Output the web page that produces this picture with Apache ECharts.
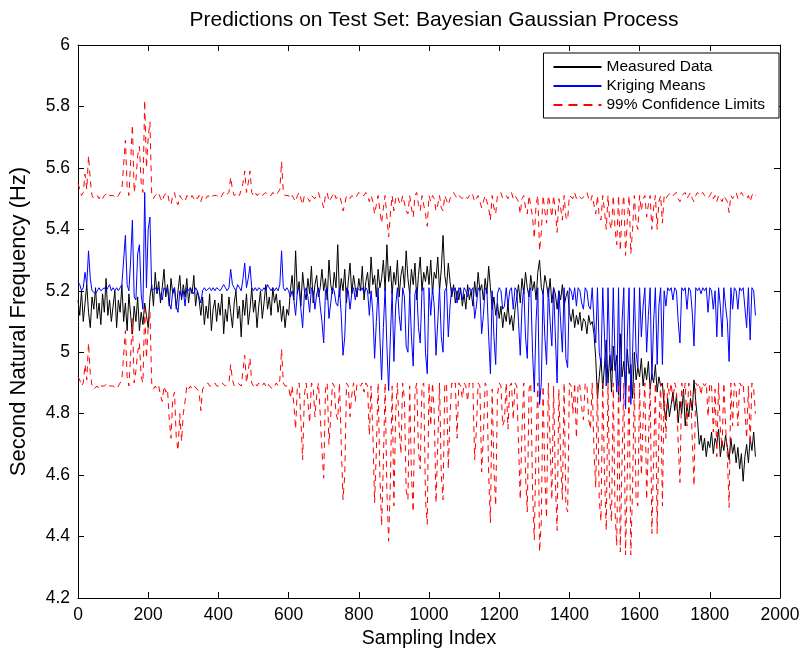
<!DOCTYPE html>
<html>
<head>
<meta charset="utf-8">
<script src="https://cdn.jsdelivr.net/npm/echarts@6/dist/echarts.min.js"></script>
<style>
  html, body { margin: 0; padding: 0; background: #fff; }
  #chart { width: 803px; height: 657px; }
</style>
</head>
<body>
<div id="chart"></div>
<script>
// Sampling index step between stored values
const STEP = 5;

// Measured second natural frequency (Hz)
const measured = [
  5.17,5.12,5.20,5.10,5.16,5.22,5.13,5.08,5.18,5.14,5.21,5.11,5.16,5.09,5.19,5.13,5.24,5.12,5.17,5.10,
  5.15,5.20,5.08,5.17,5.13,5.22,5.10,5.16,5.07,5.19,5.12,5.06,5.15,5.10,5.18,5.07,5.13,5.09,5.16,5.12,
  5.08,5.18,5.22,5.15,5.26,5.19,5.23,5.16,5.21,5.27,5.18,5.22,5.15,5.24,5.19,5.21,5.14,5.20,5.25,5.17,
  5.22,5.18,5.24,5.16,5.21,5.19,5.25,5.15,5.20,5.17,5.12,5.18,5.09,5.15,5.11,5.19,5.07,5.14,5.17,5.10,
  5.16,5.12,5.19,5.06,5.14,5.10,5.18,5.13,5.08,5.16,5.20,5.11,5.15,5.05,5.17,5.12,5.19,5.09,5.14,5.21,
  5.13,5.17,5.08,5.15,5.20,5.11,5.16,5.22,5.14,5.18,5.12,5.21,5.16,5.19,5.13,5.17,5.10,5.15,5.08,5.14,
  5.12,5.20,5.25,5.17,5.33,5.19,5.23,5.15,5.26,5.20,5.17,5.24,5.19,5.28,5.16,5.22,5.25,5.18,5.21,5.27,
  5.20,5.24,5.17,5.30,5.22,5.19,5.26,5.21,5.35,5.18,5.24,5.20,5.27,5.16,5.23,5.29,5.19,5.25,5.21,5.18,
  5.24,5.20,5.28,5.17,5.23,5.26,5.19,5.31,5.22,5.25,5.18,5.27,5.21,5.24,5.30,5.20,5.35,5.23,5.28,5.19,
  5.26,5.22,5.30,5.18,5.25,5.28,5.21,5.33,5.24,5.19,5.27,5.22,5.29,5.17,5.25,5.31,5.20,5.26,5.23,5.28,
  5.22,5.30,5.19,5.26,5.24,5.31,5.20,5.27,5.38,5.25,5.21,5.29,5.23,5.18,5.22,5.16,5.20,5.17,5.21,5.15,
  5.19,5.14,5.22,5.17,5.20,5.15,5.23,5.18,5.26,5.20,5.22,5.17,5.24,5.19,5.28,5.21,5.14,5.18,5.12,5.16,
  5.11,5.15,5.08,5.13,5.10,5.16,5.09,5.12,5.07,5.14,5.18,5.22,5.16,5.24,5.19,5.26,5.21,5.18,5.25,5.20,
  5.23,5.17,5.26,5.30,5.21,5.19,5.25,5.22,5.18,5.24,5.16,5.21,5.19,5.14,5.20,5.17,5.22,5.15,5.18,5.20,
  5.13,5.10,5.14,5.08,5.12,5.09,5.13,5.07,5.11,5.10,5.06,5.12,5.09,5.10,5.06,4.98,4.85,4.92,4.98,4.88,
  4.96,5.04,4.90,4.99,4.87,5.02,4.94,4.99,4.86,5.06,4.92,4.97,4.88,5.01,4.93,4.96,4.85,5.00,4.91,4.95,
  4.92,4.98,4.89,4.95,4.91,4.97,4.88,4.93,4.90,4.96,4.87,4.92,4.89,4.90,4.82,4.78,4.85,4.79,4.83,4.87,
  4.81,4.86,4.77,4.84,4.80,4.88,4.76,4.83,4.79,4.85,4.81,4.91,4.84,4.78,4.70,4.73,4.68,4.72,4.66,4.71,
  4.69,4.74,4.67,4.72,4.70,4.75,4.66,4.71,4.68,4.73,4.69,4.65,4.72,4.67,4.70,4.64,4.69,4.62,4.67,4.58,
  4.66,4.70,4.64,4.72,4.68,4.74,4.66
];

// Kriging (GP posterior) means
const krigingMean = [
  5.23,5.22,5.20,5.21,5.26,5.22,5.33,5.24,5.20,5.20,5.19,5.20,5.21,5.20,5.20,5.21,5.20,5.21,5.22,5.20,
  5.21,5.20,5.21,5.20,5.21,5.22,5.30,5.38,5.22,5.20,5.30,5.43,5.18,5.17,5.32,5.35,5.19,5.14,5.52,5.21,
  5.40,5.44,5.20,5.20,5.21,5.20,5.21,5.18,5.17,5.21,5.20,5.21,5.16,5.14,5.20,5.21,5.15,5.13,5.20,5.18,
  5.20,5.15,5.21,5.20,5.21,5.20,5.19,5.21,5.20,5.20,5.16,5.20,5.21,5.20,5.20,5.21,5.20,5.21,5.20,5.21,
  5.21,5.20,5.21,5.22,5.21,5.20,5.21,5.27,5.22,5.21,5.20,5.22,5.21,5.20,5.24,5.29,5.21,5.24,5.28,5.21,
  5.20,5.21,5.20,5.21,5.21,5.20,5.21,5.20,5.22,5.21,5.20,5.21,5.20,5.21,5.20,5.22,5.33,5.21,5.20,5.21,
  5.20,5.18,5.20,5.17,5.12,5.20,5.21,5.14,5.08,5.19,5.21,5.18,5.13,5.21,5.20,5.14,5.19,5.21,5.15,5.10,
  5.03,5.20,5.21,5.11,5.16,5.21,5.20,5.16,5.15,5.21,5.12,4.99,5.05,5.21,5.20,5.14,5.19,5.21,5.17,5.21,
  5.21,5.20,5.21,5.19,5.21,5.20,5.12,5.20,5.13,4.98,5.10,5.21,5.05,4.91,5.08,5.21,5.02,4.875,5.05,5.20,
  4.97,5.15,5.21,5.12,5.07,5.21,5.18,5.02,5.00,5.20,5.05,4.955,5.19,5.21,5.08,5.03,5.20,5.21,5.00,4.93,
  5.21,5.12,5.21,5.15,4.99,5.10,5.21,5.05,5.00,5.20,5.21,5.05,5.15,5.21,5.20,5.21,5.16,5.21,5.20,5.17,
  5.21,5.20,5.18,5.21,5.20,5.21,5.11,5.15,5.21,5.20,5.06,5.12,5.21,5.20,5.05,4.93,5.20,5.05,4.96,5.19,
  5.21,5.20,5.14,5.15,5.21,5.15,5.20,5.21,5.14,5.21,5.20,5.10,4.99,5.15,5.21,5.05,4.98,5.20,5.21,5.00,
  4.87,5.10,5.21,4.83,4.90,5.20,5.05,4.96,5.21,5.10,5.02,5.21,5.05,4.90,5.20,5.10,5.00,5.21,4.98,4.95,
  5.21,5.20,5.17,5.21,5.15,5.21,5.20,5.16,5.14,5.21,5.20,5.15,5.14,5.21,5.10,5.03,5.21,5.00,4.96,5.21,
  5.05,4.89,5.21,5.00,4.94,5.21,4.98,4.87,5.21,4.84,5.10,5.21,4.815,5.05,5.21,4.83,5.00,5.21,5.00,4.95,
  5.21,5.05,5.15,5.21,5.00,5.12,5.21,4.91,5.10,5.21,4.96,5.15,5.21,4.96,5.20,5.15,5.21,5.20,5.21,5.17,
  5.21,5.20,5.10,5.03,5.21,5.20,5.21,5.14,5.21,5.20,5.13,5.02,5.21,5.20,5.21,5.19,5.21,5.20,5.21,5.13,
  5.21,5.20,5.14,5.20,5.05,5.21,5.15,5.05,5.21,5.15,5.10,4.97,5.21,5.14,5.21,5.20,5.14,5.21,5.20,5.21,
  5.21,5.08,5.21,5.04,5.21,5.20,5.12
];

// Upper 99% confidence limit
const upperLimit = [
  5.55,5.53,5.51,5.52,5.58,5.53,5.64,5.56,5.51,5.50,5.50,5.51,5.50,5.51,5.50,5.51,5.51,5.52,5.51,5.51,
  5.51,5.51,5.50,5.51,5.51,5.53,5.61,5.69,5.54,5.51,5.62,5.74,5.52,5.56,5.64,5.67,5.55,5.52,5.82,5.60,
  5.70,5.75,5.51,5.50,5.51,5.51,5.52,5.50,5.49,5.51,5.51,5.52,5.49,5.48,5.51,5.52,5.49,5.48,5.51,5.50,
  5.50,5.49,5.51,5.51,5.50,5.51,5.50,5.51,5.50,5.51,5.49,5.51,5.51,5.50,5.51,5.51,5.50,5.51,5.51,5.51,
  5.51,5.50,5.51,5.52,5.51,5.51,5.52,5.57,5.53,5.51,5.51,5.52,5.51,5.51,5.55,5.59,5.52,5.55,5.59,5.52,
  5.51,5.52,5.51,5.51,5.52,5.51,5.51,5.52,5.51,5.51,5.51,5.52,5.51,5.51,5.52,5.53,5.62,5.52,5.51,5.51,
  5.51,5.50,5.51,5.50,5.49,5.51,5.52,5.50,5.48,5.51,5.51,5.50,5.49,5.51,5.51,5.50,5.51,5.52,5.50,5.49,
  5.47,5.51,5.52,5.49,5.50,5.51,5.52,5.50,5.50,5.51,5.49,5.46,5.48,5.51,5.51,5.50,5.51,5.51,5.50,5.51,
  5.52,5.51,5.51,5.51,5.52,5.51,5.49,5.51,5.49,5.45,5.48,5.51,5.46,5.42,5.47,5.51,5.44,5.375,5.45,5.51,
  5.46,5.50,5.51,5.49,5.48,5.51,5.51,5.46,5.45,5.51,5.47,5.44,5.51,5.52,5.48,5.46,5.51,5.51,5.45,5.41,
  5.51,5.49,5.51,5.50,5.46,5.48,5.51,5.47,5.46,5.51,5.51,5.48,5.50,5.51,5.52,5.51,5.50,5.51,5.51,5.50,
  5.51,5.51,5.50,5.51,5.52,5.51,5.49,5.50,5.51,5.51,5.47,5.49,5.51,5.51,5.47,5.43,5.51,5.47,5.45,5.51,
  5.51,5.52,5.50,5.50,5.51,5.50,5.51,5.52,5.50,5.51,5.51,5.49,5.45,5.50,5.51,5.47,5.45,5.51,5.51,5.44,
  5.37,5.48,5.51,5.33,5.39,5.51,5.46,5.42,5.51,5.48,5.44,5.51,5.46,5.39,5.50,5.47,5.43,5.51,5.44,5.43,
  5.51,5.51,5.50,5.52,5.50,5.51,5.51,5.50,5.50,5.51,5.52,5.50,5.49,5.51,5.48,5.45,5.51,5.44,5.43,5.51,
  5.46,5.40,5.51,5.42,5.40,5.51,5.40,5.35,5.51,5.33,5.46,5.51,5.315,5.43,5.51,5.32,5.40,5.51,5.42,5.40,
  5.51,5.46,5.50,5.51,5.44,5.48,5.51,5.40,5.47,5.51,5.40,5.49,5.51,5.42,5.51,5.50,5.51,5.51,5.52,5.51,
  5.51,5.52,5.50,5.49,5.51,5.51,5.52,5.50,5.51,5.52,5.50,5.49,5.51,5.52,5.51,5.51,5.52,5.51,5.51,5.50,
  5.51,5.52,5.50,5.51,5.49,5.51,5.50,5.49,5.51,5.50,5.49,5.455,5.51,5.50,5.51,5.52,5.50,5.51,5.52,5.51,
  5.51,5.50,5.51,5.49,5.51,5.52,5.51
];

// Lower 99% confidence limit
const lowerLimit = [
  4.92,4.91,4.89,4.90,4.96,4.91,5.03,4.93,4.89,4.88,4.88,4.89,4.88,4.89,4.89,4.89,4.89,4.90,4.89,4.89,
  4.89,4.89,4.88,4.89,4.89,4.91,4.99,5.07,4.92,4.89,4.99,5.11,4.90,4.94,5.00,5.03,4.92,4.90,5.14,4.98,
  5.08,5.13,4.90,4.88,4.89,4.88,4.89,4.86,4.84,4.89,4.87,4.88,4.78,4.72,4.85,4.87,4.72,4.68,4.80,4.71,
  4.80,4.84,4.89,4.88,4.89,4.88,4.89,4.89,4.88,4.87,4.81,4.88,4.89,4.89,4.90,4.89,4.89,4.89,4.90,4.89,
  4.89,4.89,4.90,4.90,4.89,4.89,4.90,4.96,4.91,4.89,4.89,4.90,4.90,4.89,4.94,4.99,4.90,4.94,4.98,4.90,
  4.89,4.90,4.89,4.90,4.90,4.89,4.90,4.89,4.90,4.89,4.89,4.88,4.89,4.90,4.89,4.91,5.01,4.90,4.89,4.89,
  4.89,4.85,4.89,4.83,4.75,4.89,4.90,4.78,4.65,4.86,4.90,4.84,4.77,4.90,4.89,4.79,4.86,4.90,4.80,4.68,
  4.59,4.88,4.90,4.70,4.79,4.90,4.89,4.80,4.78,4.90,4.70,4.52,4.60,4.90,4.89,4.79,4.86,4.90,4.84,4.90,
  4.90,4.89,4.90,4.87,4.90,4.89,4.73,4.89,4.74,4.51,4.68,4.90,4.60,4.435,4.64,4.90,4.55,4.385,4.58,4.89,
  4.50,4.80,4.90,4.75,4.67,4.90,4.85,4.55,4.52,4.89,4.60,4.48,4.87,4.90,4.68,4.62,4.89,4.90,4.52,4.44,
  4.90,4.76,4.90,4.80,4.51,4.70,4.90,4.60,4.52,4.89,4.90,4.62,4.80,4.90,4.89,4.90,4.72,4.90,4.89,4.85,
  4.90,4.89,4.84,4.90,4.89,4.90,4.65,4.75,4.90,4.89,4.61,4.73,4.90,4.89,4.60,4.445,4.88,4.62,4.50,4.86,
  4.90,4.89,4.76,4.78,4.90,4.75,4.89,4.90,4.78,4.90,4.89,4.70,4.52,4.75,4.90,4.60,4.48,4.88,4.90,4.55,
  4.39,4.70,4.90,4.35,4.45,4.89,4.60,4.46,4.90,4.70,4.52,4.89,4.58,4.42,4.88,4.66,4.52,4.90,4.50,4.48,
  4.90,4.89,4.80,4.90,4.72,4.90,4.89,4.82,4.78,4.90,4.89,4.78,4.75,4.90,4.68,4.56,4.90,4.52,4.45,4.90,
  4.60,4.42,4.90,4.52,4.45,4.90,4.48,4.37,4.90,4.35,4.65,4.90,4.34,4.60,4.90,4.34,4.56,4.90,4.52,4.50,
  4.90,4.60,4.78,4.90,4.52,4.70,4.90,4.41,4.65,4.90,4.41,4.75,4.90,4.50,4.88,4.72,4.90,4.86,4.90,4.84,
  4.90,4.88,4.70,4.576,4.90,4.86,4.90,4.76,4.90,4.88,4.72,4.565,4.90,4.89,4.90,4.86,4.90,4.89,4.90,4.79,
  4.90,4.89,4.74,4.88,4.66,4.90,4.75,4.69,4.90,4.76,4.66,4.495,4.90,4.76,4.90,4.88,4.76,4.90,4.89,4.90,
  4.90,4.72,4.89,4.70,4.90,4.88,4.80
];

// Axis ticks
const xTicks = { min: 0, max: 2000, interval: 200 };
const yTicks = { min: 4.2, max: 6, interval: 0.2 };

const toPoints = arr => arr.map((v, i) => [i * STEP, v]);

const FONT = '"Liberation Sans", Arial, Helvetica, sans-serif';
const dash = [6, 5];

const chart = echarts.init(document.getElementById('chart'), null, { renderer: 'canvas' });

const axisCommon = {
  type: 'value',
  axisLine: { show: true, onZero: false, lineStyle: { color: '#000', width: 1 } },
  axisTick: { show: true, inside: true, length: 6, lineStyle: { color: '#000', width: 1 } },
  splitLine: { show: false },
  axisLabel: { color: '#000', fontFamily: FONT, fontSize: 17.5, formatter: v => String(v) }
};

chart.setOption({
  animation: false,
  backgroundColor: '#fff',
  title: {
    text: 'Predictions on Test Set: Bayesian Gaussian Process',
    left: 429,
    top: 5,
    textAlign: 'center',
    textStyle: { color: '#000', fontFamily: FONT, fontSize: 21, fontWeight: 'normal' }
  },
  grid: { left: 77, right: 23, top: 45, bottom: 59, show: false },
  legend: {
    orient: 'vertical',
    right: 24,
    top: 53,
    padding: [6, 14, 5, 9],
    itemWidth: 48,
    itemHeight: 14,
    itemGap: 3,
    backgroundColor: '#fff',
    borderColor: '#000',
    borderWidth: 1,
    borderRadius: 0,
    itemStyle: { opacity: 0 },
    textStyle: { color: '#000', fontFamily: FONT, fontSize: 15.5 },
    data: [
      { name: 'Measured Data' },
      { name: 'Kriging Means' },
      { name: '99% Confidence Limits', lineStyle: { type: [9, 6] } }
    ]
  },
  xAxis: [
    Object.assign({}, axisCommon, {
      position: 'bottom',
      min: xTicks.min, max: xTicks.max, interval: xTicks.interval,
      name: 'Sampling Index',
      nameLocation: 'middle',
      nameGap: 28,
      nameTextStyle: { color: '#000', fontFamily: FONT, fontSize: 19.5, verticalAlign: 'top' },
      axisLabel: Object.assign({}, axisCommon.axisLabel, { margin: 8 })
    }),
    Object.assign({}, axisCommon, {
      position: 'top',
      min: xTicks.min, max: xTicks.max, interval: xTicks.interval,
      axisLabel: { show: false }
    })
  ],
  yAxis: [
    Object.assign({}, axisCommon, {
      position: 'left',
      min: yTicks.min, max: yTicks.max, interval: yTicks.interval,
      name: 'Second Natural Frequency (Hz)',
      nameLocation: 'middle',
      nameGap: 48,
      nameTextStyle: { color: '#000', fontFamily: FONT, fontSize: 22 },
      axisLabel: Object.assign({}, axisCommon.axisLabel, { margin: 8 })
    }),
    Object.assign({}, axisCommon, {
      position: 'right',
      min: yTicks.min, max: yTicks.max, interval: yTicks.interval,
      axisLabel: { show: false }
    })
  ],
  series: [
    {
      name: 'Measured Data',
      type: 'line',
      data: toPoints(measured),
      symbol: 'none',
      lineStyle: { color: '#000', width: 1 },
      itemStyle: { color: '#000' },
      z: 2
    },
    {
      name: 'Kriging Means',
      type: 'line',
      data: toPoints(krigingMean),
      symbol: 'none',
      lineStyle: { color: '#0000ff', width: 1 },
      itemStyle: { color: '#0000ff' },
      z: 3
    },
    {
      name: '99% Confidence Limits',
      type: 'line',
      data: toPoints(upperLimit),
      symbol: 'none',
      lineStyle: { color: '#ff0000', width: 1, type: dash },
      itemStyle: { color: '#ff0000' },
      z: 4
    },
    {
      name: '99% Confidence Limits',
      type: 'line',
      data: toPoints(lowerLimit),
      symbol: 'none',
      lineStyle: { color: '#ff0000', width: 1, type: dash },
      itemStyle: { color: '#ff0000' },
      z: 4
    }
  ]
});
</script>
</body>
</html>
